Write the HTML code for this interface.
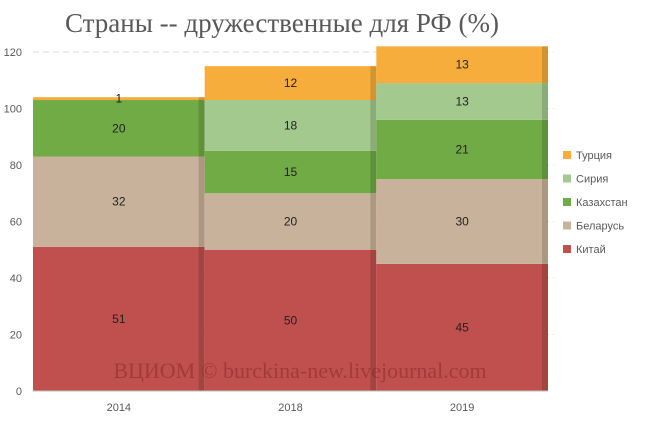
<!DOCTYPE html>
<html><head><meta charset="utf-8"><style>
body{margin:0;background:#fff;width:645px;height:422px;overflow:hidden}
svg{display:block}
</style></head><body>
<svg id="chart" width="645" height="422" xmlns="http://www.w3.org/2000/svg">
<text x="282" y="32" text-anchor="middle" font-family="Liberation Serif, serif" font-size="27" fill="#595959">Страны -- дружественные для РФ (%)</text>
<g id="grid"></g><g id="bars"></g><g id="labels"></g><g id="axes"></g><g id="legend"></g>
<text x="300" y="378" text-anchor="middle" font-family="Liberation Serif, serif" font-size="22" fill="#8a2a28" opacity="0.55">ВЦИОМ © burckina-new.livejournal.com</text>
</svg>
<script>
const categories=["2014","2018","2019"];
const seriesNames=["Китай","Беларусь","Казахстан","Сирия","Турция"];
const kitai=[51,50,45];
const belarus=[32,20,30];
const kazakhstan=[20,15,21];
const siria=[0,18,13];
const turcia=[1,12,13];
const yTicks=[0,20,40,60,80,100,120];
const series=[kitai,belarus,kazakhstan,siria,turcia];
const colors=["#c0504d","#c9b29b","#70ab46","#a4c98e","#f7ad3c"];
const NS="http://www.w3.org/2000/svg";
const x0=33,x1=548,yBase=391,yTop=52,yMax=120;
const y=v=>yBase-(v/yMax)*(yBase-yTop);
const bw=(x1-x0)/categories.length;
const bx=i=>x0+i*bw;
function mk(t,a,p){const e=document.createElementNS(NS,t);for(const k in a)e.setAttribute(k,a[k]);p.appendChild(e);return e;}
const grid=document.getElementById('grid'),bars=document.getElementById('bars'),labels=document.getElementById('labels'),axes=document.getElementById('axes'),legend=document.getElementById('legend');
yTicks.forEach(t=>{
  if(t>0){const l=mk('line',{x1:x0,x2:x1+6,y1:y(t),y2:y(t),stroke:'#d9d9d9','stroke-dasharray':'6,4'},grid);
  
  }
  const tx=mk('text',{x:22,y:y(t)+4,'text-anchor':'end','font-family':'Liberation Sans, sans-serif','font-size':'11',fill:'#595959'},axes);
  tx.textContent=t;
  
  
});
categories.forEach((c,i)=>{
  let acc=0;
  series.forEach((s,j)=>{
    const v=s[i];if(v<=0)return;
    const r=mk('rect',{x:bx(i),y:y(acc+v),width:bw,height:y(acc)-y(acc+v),fill:colors[j]},bars);
    
    
    const sh=mk('rect',{x:bx(i)+bw-6,y:y(acc+v),width:6,height:y(acc)-y(acc+v),fill:'#000',opacity:'0.15'},bars);
    
    
    const t=mk('text',{x:bx(i)+bw/2,y:y(acc+v/2)+4,'text-anchor':'middle','font-family':'Liberation Sans, sans-serif','font-size':'12',fill:'#222'},labels);
    t.textContent=v;
    
    
    acc+=v;
  });
  const ct=mk('text',{x:bx(i)+bw/2,y:411,'text-anchor':'middle','font-family':'Liberation Sans, sans-serif','font-size':'11',fill:'#595959'},axes);
  ct.textContent=c;
  
  
});
const ax=mk('line',{x1:x0,x2:x1,y1:yBase,y2:yBase,stroke:'#bfbfbf'},axes);


for(let j=seriesNames.length-1;j>=0;j--){
  const ly=155+(4-j)*23.5;
  const g=mk('g',{},legend);
  
  
  mk('rect',{x:563,y:ly-4,width:8,height:8,fill:colors[j]},g);
  const t=mk('text',{x:576,y:ly+4,'font-family':'Liberation Sans, sans-serif','font-size':'11',fill:'#595959'},g);
  t.textContent=seriesNames[j];
}
</script>
</body></html>
